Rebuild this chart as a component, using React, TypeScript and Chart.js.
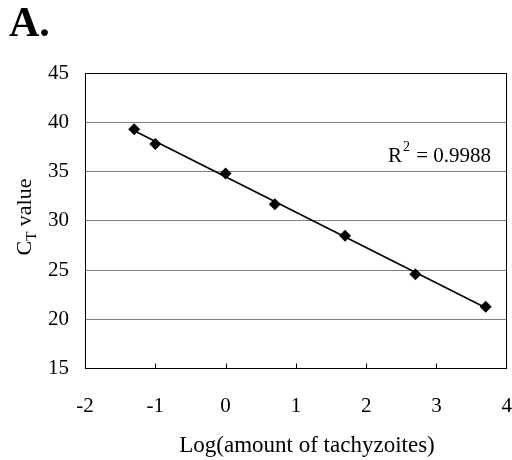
import React, { useEffect, useRef } from "react";
import { Chart, registerables } from "chart.js";

Chart.register(...registerables);

const logAmount = [-1.3, -1, 0, 0.7, 1.7, 2.7, 3.7];
const ctValues = [39.3, 37.8, 34.8, 31.7, 28.5, 24.6, 21.3];
const xTickValues = [-2, -1, 0, 1, 2, 3, 4];
const yTickValues = [15, 20, 25, 30, 35, 40, 45];
const panelLabel = "A.";
const r2Label = "0.9988";
const xTitle = "Log(amount of tachyzoites)";

const FONT = "'Liberation Serif', 'Times New Roman', serif";

function fitLine(xs: number[], ys: number[]) {
  const n = xs.length;
  const mx = xs.reduce((a, b) => a + b, 0) / n;
  const my = ys.reduce((a, b) => a + b, 0) / n;
  let sxy = 0, sxx = 0;
  for (let i = 0; i < n; i++) {
    sxy += (xs[i] - mx) * (ys[i] - my);
    sxx += (xs[i] - mx) * (xs[i] - mx);
  }
  const slope = sxy / sxx;
  const icpt = my - slope * mx;
  const x0 = Math.min(...xs), x1 = Math.max(...xs);
  return [
    { x: x0, y: icpt + slope * x0 },
    { x: x1, y: icpt + slope * x1 },
  ];
}

const decor = {
  id: "decor",
  afterDraw(chart: any) {
    const ctx = chart.ctx as CanvasRenderingContext2D;
    const a = chart.chartArea;
    const xs = chart.scales.x;
    ctx.save();
    // frame
    ctx.strokeStyle = "#000";
    ctx.lineWidth = 1;
    const l = Math.round(a.left) + 0.5, t = Math.round(a.top) + 0.5;
    const r = Math.round(a.right) - 0.5, b = Math.round(a.bottom) - 0.5;
    ctx.strokeRect(l, t, r - l, b - t);
    // inward x ticks
    for (const v of xTickValues.slice(1, -1)) {
      const px = Math.round(xs.getPixelForValue(v)) + 0.5;
      ctx.beginPath();
      ctx.moveTo(px, b);
      ctx.lineTo(px, b - 5);
      ctx.stroke();
    }
    ctx.fillStyle = "#000";
    // panel label
    ctx.font = `bold 42px ${FONT}`;
    ctx.textAlign = "left";
    ctx.textBaseline = "alphabetic";
    ctx.fillText(panelLabel, 9, 36);
    // R^2
    ctx.font = `21px ${FONT}`;
    let x = 388;
    const by = 162;
    ctx.fillText("R", x, by);
    x += ctx.measureText("R").width;
    ctx.font = `14px ${FONT}`;
    ctx.fillText("2", x + 1, by - 11);
    x += ctx.measureText("2").width + 2;
    ctx.font = `21px ${FONT}`;
    ctx.fillText(" = " + r2Label, x, by);
    // y title
    ctx.save();
    ctx.translate(31, 217);
    ctx.rotate(-Math.PI / 2);
    ctx.font = `22px ${FONT}`;
    const wC = ctx.measureText("C").width;
    ctx.font = `15px ${FONT}`;
    const wT = ctx.measureText("T").width;
    ctx.font = `22px ${FONT}`;
    const wV = ctx.measureText(" value").width;
    let tx = -(wC + wT + wV) / 2;
    ctx.fillText("C", tx, 0);
    tx += wC;
    ctx.font = `15px ${FONT}`;
    ctx.fillText("T", tx, 5);
    tx += wT;
    ctx.font = `22px ${FONT}`;
    ctx.fillText(" value", tx, 0);
    ctx.restore();
    // x title
    ctx.textAlign = "center";
    ctx.font = `23px ${FONT}`;
    ctx.fillText(xTitle, 307, 452);
    ctx.restore();
  },
};

export default function App() {
  const ref = useRef<HTMLCanvasElement>(null);
  useEffect(() => {
    if (!ref.current) return;
    const pts = logAmount.map((x, i) => ({ x, y: ctValues[i] }));
    const chart = new Chart(ref.current, {
      type: "scatter",
      data: {
        datasets: [
          {
            type: "line",
            data: fitLine(logAmount, ctValues),
            borderColor: "#000",
            borderWidth: 1.6,
            pointRadius: 0,
            fill: false,
          } as any,
          {
            data: pts,
            pointStyle: "rectRot",
            pointRadius: 6,
            backgroundColor: "#000",
            borderColor: "#000",
            borderWidth: 0,
          },
        ],
      },
      plugins: [decor],
      options: {
        animation: false,
        responsive: false,
        events: [],
        layout: { autoPadding: false, padding: { left: 48, top: 73, right: 0, bottom: 41 } },
        plugins: { legend: { display: false }, tooltip: { enabled: false } },
        scales: {
          x: {
            type: "linear",
            min: -2,
            max: 4,
            afterBuildTicks: (s: any) => { s.ticks = xTickValues.map((v) => ({ value: v })); },
            grid: { display: true, drawOnChartArea: false, drawTicks: true, tickLength: 25, tickColor: "rgba(0,0,0,0)" },
            border: { display: false },
            ticks: { color: "#000", font: { family: FONT, size: 21 }, padding: 0, maxRotation: 0 },
          },
          y: {
            type: "linear",
            min: 15,
            max: 45,
            afterBuildTicks: (s: any) => { s.ticks = yTickValues.map((v) => ({ value: v })); },
            grid: { color: "#808080", lineWidth: 1, drawTicks: true, tickLength: 16, tickColor: "rgba(0,0,0,0)" },
            border: { display: false },
            ticks: { color: "#000", font: { family: FONT, size: 21 }, padding: 0 },
          },
        },
      },
    });
    return () => chart.destroy();
  }, []);
  return (
    <div style={{ position: "absolute", left: 0, top: 0, width: 512, height: 460, background: "#fff" }}>
      <canvas ref={ref} width={512} height={460} />
    </div>
  );
}
